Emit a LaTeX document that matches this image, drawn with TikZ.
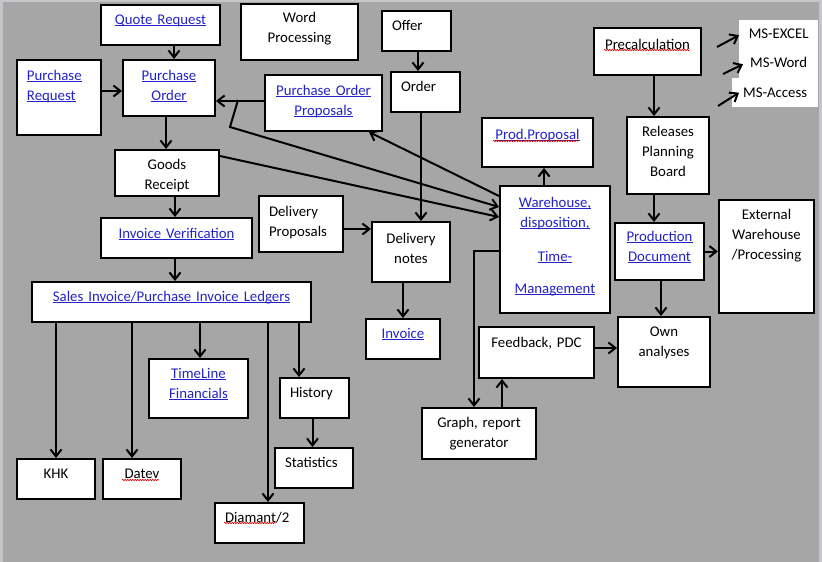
\documentclass[tikz,border=0pt]{standalone}
\usepackage{fontspec}
\setmainfont{Carlito}
\definecolor{linkblue}{RGB}{35, 35, 200}
\definecolor{bggray}{RGB}{166, 166, 166}
\definecolor{edgegray}{RGB}{198, 198, 202}
\usetikzlibrary{arrows.meta, decorations.pathmorphing}
\newcommand{\boxfont}{\fontsize{14.8}{20}\selectfont\frenchspacing}
\newcommand{\lnk}[1]{\leavevmode\setbox0\hbox{#1}\rlap{\rule[-1.8pt]{\wd0}{1.1pt}}\box0}

\begin{document}
\begin{tikzpicture}[
        x=1pt, y=-1pt,
        arr/.style={-{Straight Barb[length=7pt, width=11pt]}, line width=2pt},
        box/.style={draw, fill=white, line width=2pt, inner sep=0pt,
                    anchor=north west, align=center, font=\boxfont},
        lbox/.style={box, align=left, inner xsep=10pt},
        link/.style={box, text=linkblue},
        llink/.style={lbox, text=linkblue},
        msbox/.style={fill=white, inner sep=0pt, anchor=north west,
                      align=center, font=\boxfont},
        boxsize/.style n args={3}{text width=#1pt, text height=#2pt, text depth=#3pt},
        squig/.style={red!85!black, line width=0.6pt, decorate,
                      decoration={snake, amplitude=0.7pt, segment length=2.5pt}}
      ]
        \useasboundingbox (0,0) rectangle (822,562);
        \fill[edgegray] (0,0) rectangle (822,562);
        \fill[bggray] (3,2) rectangle (819,562);

        \node[link, boxsize={119}{19}{21}] (qr) at (100,4) {\lnk{Quote Request}};
        \node[box, boxsize={117}{19}{37}] (wp) at (240,3) {Word\\Processing};
        \node[lbox, boxsize={49}{19}{21}] (offer) at (381,10) {Offer};
        \node[lbox, boxsize={49}{19}{21}] (order) at (390,71) {Order};
        \node[llink, boxsize={64}{20}{55}] (preq) at (16,59) {\lnk{Purchase}\\\lnk{Request}};
        \node[link, boxsize={92}{20}{36}] (po) at (122,59) {\lnk{Purchase}\\\lnk{Order}};
        \node[link, boxsize={117}{20}{36}] (pop) at (264,74)
              {\lnk{Purchase Order}\\\lnk{Proposals}};
        \node[box, boxsize={104}{19}{27}] (gr) at (114,149) {Goods\\Receipt};
        \node[box, boxsize={107}{21}{26}] (pre) at (593,27) {Precalculation};
        \node[msbox, boxsize={79}{18}{12}] (excel) at (739,20) {MS-EXCEL};
        \node[msbox, boxsize={79}{17}{11}] (word) at (739,50) {MS-Word};
        \node[msbox, boxsize={86}{19}{10}] (access) at (732,78) {MS-Access};
        \node[link, boxsize={111}{21}{28}] (pp) at (481,117) {\lnk{Prod.Proposal}};
        \node[box, boxsize={82}{19}{58}] (rpb) at (626,116) {Releases\\Planning\\Board};
        \node[link, boxsize={110}{21}{106}] (wh) at (499,185)
              {\lnk{Warehouse,}\\\lnk{disposition,}\\[14pt]\lnk{Time-}\\[12pt]\lnk{Management}};
        \node[link, boxsize={89}{18}{39}] (pd) at (614,222) {\lnk{Production}\\\lnk{Document}};
        \node[box, boxsize={95}{19}{94}] (ext) at (718,199) {External\\Warehouse\\/Processing};
        \node[lbox, boxsize={64}{20}{36}] (dp) at (258,195) {Delivery\\Proposals};
        \node[box, boxsize={78}{21}{39}] (dn) at (371,221) {Delivery\\notes};
        \node[link, boxsize={74}{19}{21}] (inv) at (365,318) {\lnk{Invoice}};
        \node[link, boxsize={151}{20}{20}] (iv) at (100,217) {\lnk{Invoice Verification}};
        \node[link, boxsize={279}{19}{21}] (sil) at (31,281)
              {\lnk{Sales Invoice/Purchase Invoice Ledgers}};
        \node[link, boxsize={99}{19}{40}] (tl) at (148,358) {\lnk{TimeLine}\\\lnk{Financials}};
        \node[box, boxsize={78}{19}{21}] (khk) at (16,458) {KHK};
        \node[box, boxsize={78}{19}{21}] (dat) at (102,458) {Datev};
        \node[lbox, boxsize={69}{19}{21}] (dia) at (214,502) {Diamant/2};
        \node[lbox, boxsize={49}{19}{21}] (hist) at (279,377) {History};
        \node[lbox, boxsize={58}{19}{21}] (stat) at (274,447) {Statistics};
        \node[box, boxsize={114}{19}{32}] (grg) at (421,407) {Graph, report\\generator};
        \node[box, boxsize={115}{20}{31}] (fb) at (478,326) {Feedback, PDC};
        \node[box, boxsize={92}{19}{51}] (oa) at (617,316) {Own\\analyses};

        \draw[squig] (604,50) -- (690,50);
        \draw[squig] (493,141) -- (578,141);
        \draw[squig] (122,480) -- (159,480);
        \draw[squig] (224,523) -- (276,523);

        \coordinate (fork) at (238,100);
        \coordinate (knee) at (230,127);
        \coordinate (toexcel) at (717,47);
        \coordinate (toword) at (723,74);
        \coordinate (toaccess) at (718,106);

        \draw[arr] ([xshift=13.5pt]qr.south) -- ([xshift=13.5pt]qr.south |- po.north);
        \draw[arr] ([yshift=6.5pt]preq.east) -- ([yshift=6.5pt]preq.east -| po.west);
        \draw[arr] ([yshift=2pt]pop.west) -- ([yshift=2pt]pop.west -| po.east);
        \draw[arr] ([xshift=-3pt]po.south) -- ([xshift=-3pt]po.south |- gr.north);
        \draw[arr] ([xshift=8pt]gr.south) -- ([xshift=8pt]gr.south |- iv.north);
        \draw[arr] ([xshift=-1.5pt]iv.south) -- ([xshift=-1.5pt]iv.south |- sil.north);
        \draw[arr] (khk.north |- sil.south) -- (khk.north);
        \draw[arr] ([xshift=-10pt]dat.north |- sil.south) -- ([xshift=-10pt]dat.north);
        \draw[arr] ([xshift=1.5pt]tl.north |- sil.south) -- ([xshift=1.5pt]tl.north);
        \draw[arr] ([xshift=8.5pt]dia.north |- sil.south) -- ([xshift=8.5pt]dia.north);
        \draw[arr] ([xshift=-15.5pt]hist.north |- sil.south) -- ([xshift=-15.5pt]hist.north);
        \draw[arr] ([xshift=-2pt]hist.south) -- ([xshift=-2pt]hist.south |- stat.north);
        \draw[arr] ([xshift=1.5pt]offer.south) -- ([xshift=1.5pt]offer.south |- order.north);
        \draw[arr] ([xshift=-4.5pt]order.south) -- ([xshift=-4.5pt]order.south |- dn.north);
        \draw[arr] ([yshift=-5pt]dp.east) -- ([yshift=-5pt]dp.east -| dn.west);
        \draw[arr] (inv.north |- dn.south) -- (inv.north);
        \draw[arr] ([xshift=6.5pt]pp.south |- wh.north) -- ([xshift=6.5pt]pp.south);
        \draw[arr] ([yshift=53.5pt]wh.west) -- ([xshift=-14pt]pop.south east);
        \draw[arr] (fork) -- (knee) -- ([yshift=42.5pt]wh.west);
        \draw[arr] ([yshift=17pt]gr.east) -- ([yshift=32.5pt]wh.west);
        \draw[arr] ([yshift=-1.5pt]wh.west) -| ([xshift=-5pt]grg.north);
        \draw[arr] ([xshift=23pt]grg.north) -- ([xshift=23pt]grg.north |- fb.south);
        \draw[arr] ([yshift=4.5pt]fb.east) -- ([yshift=4.5pt]fb.east -| oa.west);
        \draw[arr] ([xshift=1.5pt]pd.south) -- ([xshift=1.5pt]pd.south |- oa.north);
        \draw[arr] (pd.east) -- (pd.east -| ext.west);
        \draw[arr] ([xshift=-14pt]rpb.south) -- ([xshift=-14pt]rpb.south |- pd.north);
        \draw[arr] ([xshift=6.5pt]pre.south) -- ([xshift=6.5pt]pre.south |- rpb.north);
        \draw[arr] (toexcel) -- (excel.west);
        \draw[arr] (toword) -- ([xshift=4pt]word.west);
        \draw[arr] (toaccess) -- ([xshift=7pt]access.west);
      \end{tikzpicture}
\end{document}
